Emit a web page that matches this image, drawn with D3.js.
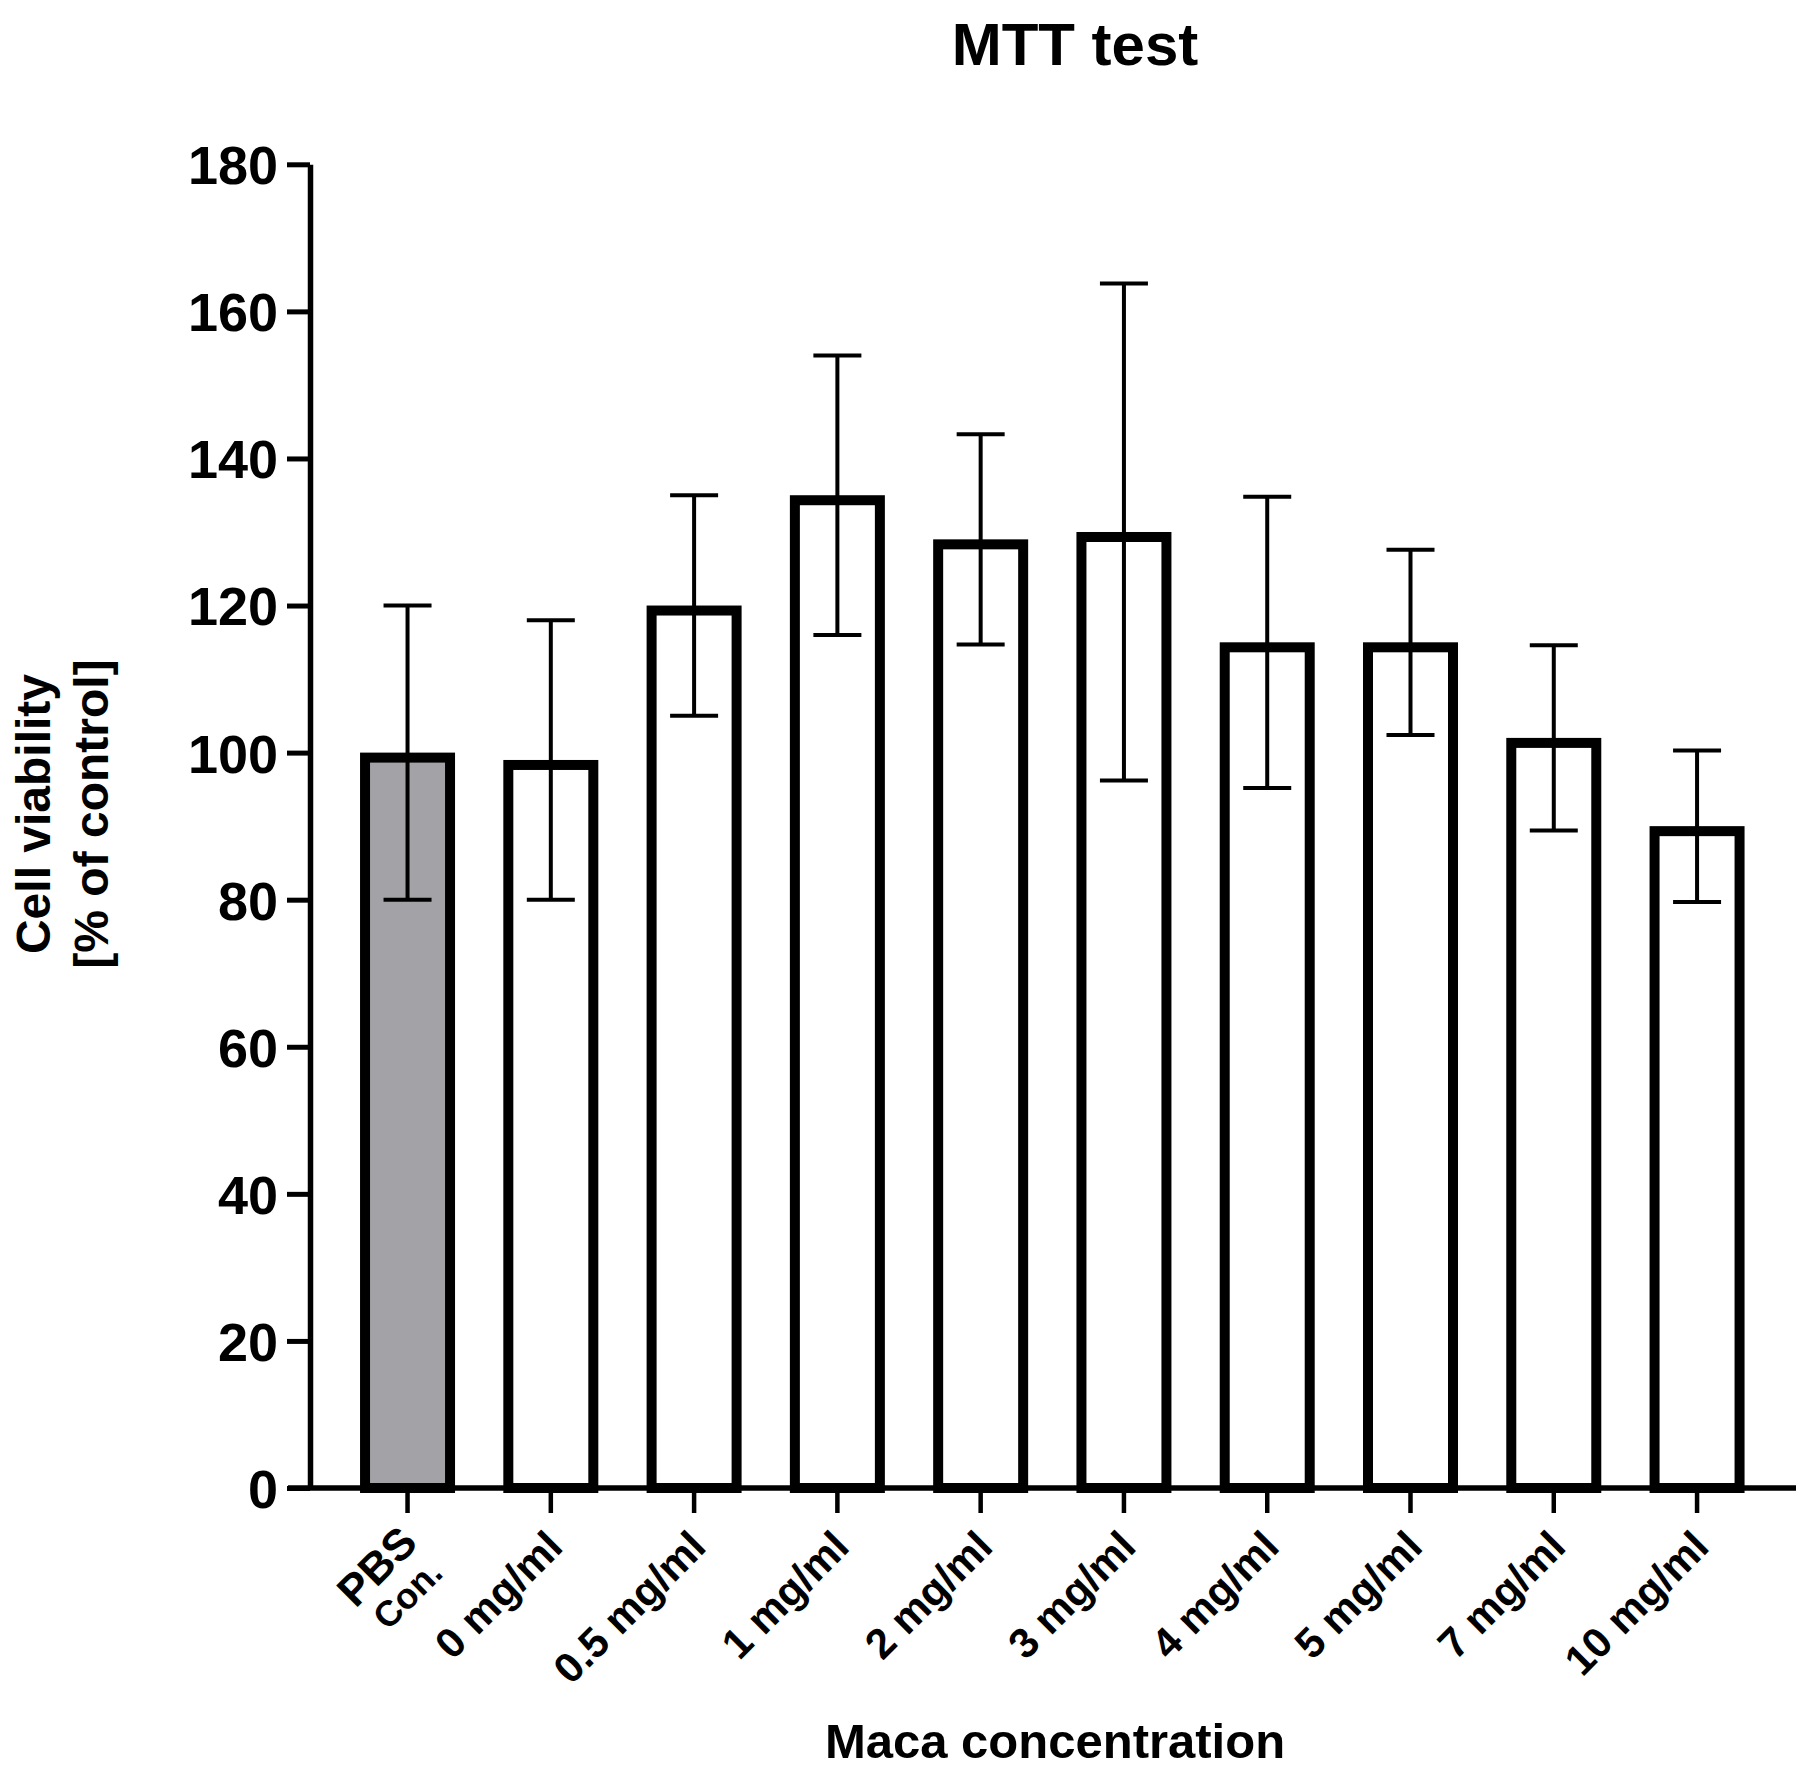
<!DOCTYPE html>
<html>
<head>
<meta charset="utf-8">
<script src="https://cdn.jsdelivr.net/npm/d3@7"></script>
<style>
  body { margin: 0; background: #fff; }
  text { font-family: "Liberation Sans", Arial, sans-serif; font-weight: bold; fill: #000; }
</style>
</head>
<body>
<div id="chart"></div>
<script>
// data ///////////////////////////////////////////////////////////////////
const categories = ['PBS', '0 mg/ml', '0.5 mg/ml', '1 mg/ml', '2 mg/ml', '3 mg/ml', '4 mg/ml', '5 mg/ml', '7 mg/ml', '10 mg/ml'];
const means      = [100, 99, 120, 135, 129, 130, 115, 115, 102, 90];
const sds        = [20, 19, 15, 19, 14.3, 33.8, 19.8, 12.6, 12.6, 10.3];
const yTicks     = [0, 20, 40, 60, 80, 100, 120, 140, 160, 180];

const width = 1815, height = 1779;
const barStroke = 10;

// svg setup //////////////////////////////////////////////////////////////
const svg = d3.select('#chart').append('svg')
  .attr('width', width)
  .attr('height', height)
  .attr('viewBox', [0, 0, width, height]);

svg.append('rect').attr('width', width).attr('height', height).attr('fill', '#fff');

const y = d3.scaleLinear().domain([0, 180]).range([1488, 164.3]);
const x = d3.scaleBand().domain(categories)
  .range([335.9, 1768.7])
  .paddingInner(0.337)
  .paddingOuter(0.1685);

const bars   = svg.append('g').attr('id', 'bars');
const errors = svg.append('g').attr('id', 'errors');
const axes   = svg.append('g').attr('id', 'axes');

// bars (stroke drawn inside the value edge) //////////////////////////////
bars.selectAll('rect')
  .data(categories)
  .join('rect')
  .attr('x', d => x(d) + barStroke / 2)
  .attr('y', (d, i) => y(means[i]) + barStroke / 2)
  .attr('width', x.bandwidth() - barStroke)
  .attr('height', (d, i) => y(0) - y(means[i]) - barStroke / 2)
  .attr('fill', (d, i) => i === 0 ? '#a3a2a7' : '#fff')
  .attr('stroke', '#000')
  .attr('stroke-width', barStroke);

// error bars //////////////////////////////////////////////////////////////
const cap = 24;
const eb = errors.selectAll('g')
  .data(categories)
  .join('g')
  .attr('stroke', '#000')
  .attr('stroke-width', 4);

eb.append('line')
  .attr('x1', d => x(d) + x.bandwidth() / 2)
  .attr('x2', d => x(d) + x.bandwidth() / 2)
  .attr('y1', (d, i) => y(means[i] - sds[i]))
  .attr('y2', (d, i) => y(means[i] + sds[i]));

eb.append('line')
  .attr('x1', d => x(d) + x.bandwidth() / 2 - cap)
  .attr('x2', d => x(d) + x.bandwidth() / 2 + cap)
  .attr('y1', (d, i) => y(means[i] + sds[i]))
  .attr('y2', (d, i) => y(means[i] + sds[i]));

eb.append('line')
  .attr('x1', d => x(d) + x.bandwidth() / 2 - cap)
  .attr('x2', d => x(d) + x.bandwidth() / 2 + cap)
  .attr('y1', (d, i) => y(means[i] - sds[i]))
  .attr('y2', (d, i) => y(means[i] - sds[i]));

// y axis //////////////////////////////////////////////////////////////////
const yAxis = axes.append('g')
  .attr('transform', 'translate(310,0)')
  .call(d3.axisLeft(y).tickValues(yTicks).tickSize(23).tickPadding(9).tickSizeOuter(0));

yAxis.select('.domain').attr('stroke', '#000').attr('stroke-width', 5.5);
yAxis.selectAll('.tick line').attr('stroke', '#000').attr('stroke-width', 5);
yAxis.selectAll('.tick text')
  .attr('font-size', 54)
  .attr('font-family', '"Liberation Sans", Arial, sans-serif')
  .attr('font-weight', 'bold')
  .attr('dy', '0.36em');

// x axis //////////////////////////////////////////////////////////////////
axes.append('line')
  .attr('x1', 288).attr('x2', 1796)
  .attr('y1', y(0)).attr('y2', y(0))
  .attr('stroke', '#000').attr('stroke-width', 5.5);

const xTick = axes.append('g').attr('id', 'x-ticks')
  .selectAll('g')
  .data(categories)
  .join('g')
  .attr('transform', d => `translate(${x(d) + x.bandwidth() / 2},${y(0)})`);

xTick.append('line')
  .attr('y1', 2).attr('y2', 25)
  .attr('stroke', '#000').attr('stroke-width', 4.5);

xTick.filter((d, i) => i > 0).append('text')
  .attr('transform', 'translate(14,61) rotate(-45)')
  .attr('text-anchor', 'end')
  .attr('font-size', 42)
  .text(d => d);

const pbs = xTick.filter((d, i) => i === 0);
pbs.append('text')
  .attr('transform', 'translate(12,57) rotate(-45)')
  .attr('text-anchor', 'end')
  .attr('font-size', 44)
  .text('PBS');
pbs.append('text')
  .attr('transform', 'translate(37,87) rotate(-45)')
  .attr('text-anchor', 'end')
  .attr('font-size', 36)
  .text('Con.');

// titles //////////////////////////////////////////////////////////////////
svg.append('text')
  .attr('x', 1075).attr('y', 65)
  .attr('text-anchor', 'middle')
  .attr('font-size', 60)
  .text('MTT test');

svg.append('text')
  .attr('x', 1055).attr('y', 1758)
  .attr('text-anchor', 'middle')
  .attr('font-size', 49)
  .text('Maca concentration');

const yTitle = svg.append('text')
  .attr('transform', 'translate(50,814) rotate(-90)')
  .attr('text-anchor', 'middle')
  .attr('font-size', 48);
yTitle.append('tspan').attr('x', 0).attr('y', 0).text('Cell viability');
yTitle.append('tspan').attr('x', 0).attr('y', 58).text('[% of control]');
</script>
</body>
</html>
